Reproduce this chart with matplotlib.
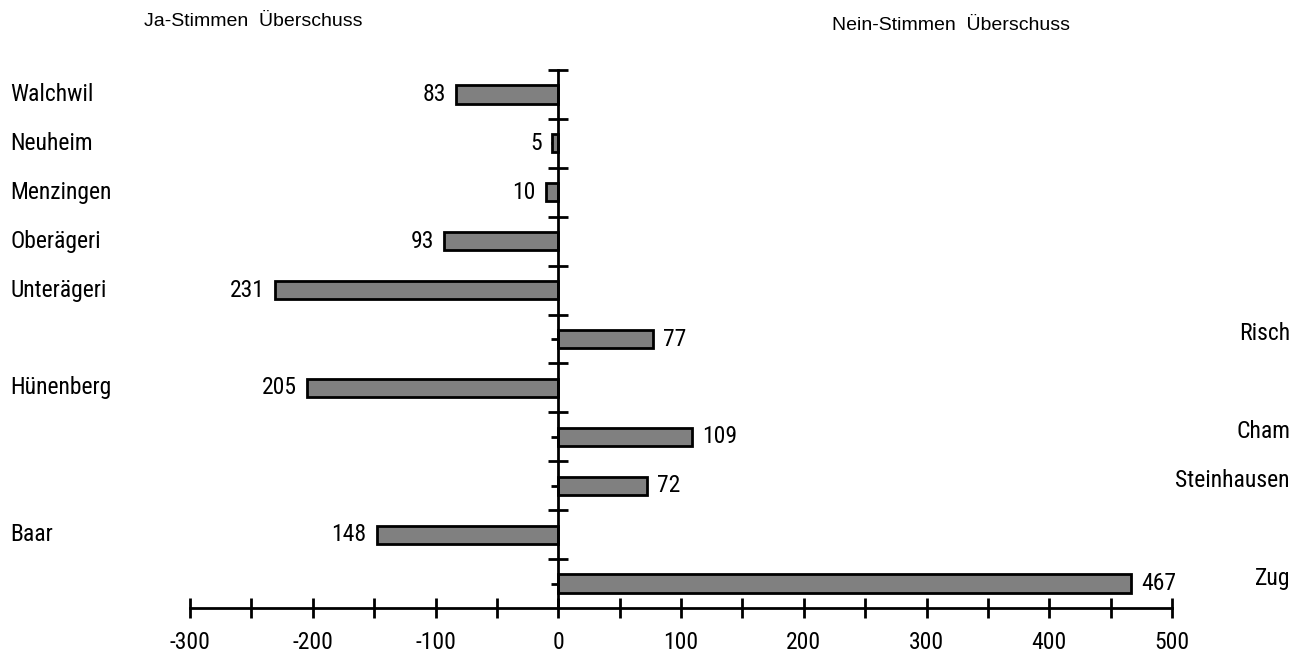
import matplotlib
matplotlib.use("Agg")
import matplotlib.pyplot as plt
from matplotlib.ticker import MultipleLocator, FixedLocator, NullFormatter

# Data
gemeinden = ["Walchwil", "Neuheim", "Menzingen", "Oberägeri", "Unterägeri", "Risch",
             "Hünenberg", "Cham", "Steinhausen", "Baar", "Zug"]
werte = [-83, -5, -10, -93, -231, 77, -205, 109, 72, -148, 467]
xticks = [-300, -200, -100, 0, 100, 200, 300, 400, 500]
title_ja = "Ja-Stimmen  Überschuss"
title_nein = "Nein-Stimmen  Überschuss"

W, H = 1302, 657
fig = plt.figure(figsize=(W / 100, H / 100), dpi=100)
NARROW = ["Liberation Sans Narrow", "Roboto Condensed", "DejaVu Sans Condensed", "DejaVu Sans"]
WIDE = ["Liberation Sans", "DejaVu Sans"]
FS = 17

ax = fig.add_axes([190 / W, 1 - 608 / H, (1172 - 190) / W, (608 - 70) / H])
ax.set_xlim(-300, 500)
n = len(gemeinden)
ax.set_ylim(n, 0)
ypos = [i + 0.5 for i in range(n)]

ax.barh(ypos, werte, height=0.37, color="#808080", edgecolor="black", linewidth=2, zorder=2)

for s in ["top", "right"]:
    ax.spines[s].set_visible(False)
ax.spines["left"].set_position(("data", 0))
ax.spines["left"].set_linewidth(2)
ax.spines["bottom"].set_linewidth(2)
ax.spines["left"].set_zorder(3)

ax.xaxis.set_major_locator(FixedLocator(xticks))
ax.xaxis.set_minor_locator(MultipleLocator(50))
ax.set_xticklabels([str(v) for v in xticks], fontfamily=NARROW, fontsize=FS)
ax.tick_params(axis="x", which="both", direction="inout", length=15, width=2, pad=9)

ax.yaxis.set_major_locator(FixedLocator(list(range(n))))
ax.yaxis.set_minor_locator(FixedLocator(ypos))
ax.yaxis.set_major_formatter(NullFormatter())
ax.yaxis.set_minor_formatter(NullFormatter())
ax.tick_params(axis="y", which="major", direction="inout", length=15, width=2)
ax.tick_params(axis="y", which="minor", direction="out", length=5, width=2)

for y, v, name in zip(ypos, werte, gemeinden):
    if v < 0:
        ax.annotate(str(-v), (v, y), xytext=(-10, 0), textcoords="offset pixels",
                    ha="right", va="center", fontsize=FS, fontfamily=NARROW)
        ax.annotate(name, (0, y), xycoords=("figure pixels", "data"), xytext=(10, 0),
                    textcoords="offset pixels", ha="left", va="center",
                    fontsize=FS, fontfamily=NARROW, annotation_clip=False)
    else:
        ax.annotate(str(v), (v, y), xytext=(10, 0), textcoords="offset pixels",
                    ha="left", va="center", fontsize=FS, fontfamily=NARROW)
        ax.annotate(name, (0, y), xycoords=("figure pixels", "data"), xytext=(1290, 5),
                    textcoords="offset pixels", ha="right", va="center",
                    fontsize=FS, fontfamily=NARROW, annotation_clip=False)

fig.text(253 / W, 1 - 22 / H, title_ja, ha="center", va="center", fontsize=14, fontfamily=WIDE)
fig.text(951 / W, 1 - 26 / H, title_nein, ha="center", va="center", fontsize=14, fontfamily=WIDE)

fig.savefig("out.png", dpi=100)
